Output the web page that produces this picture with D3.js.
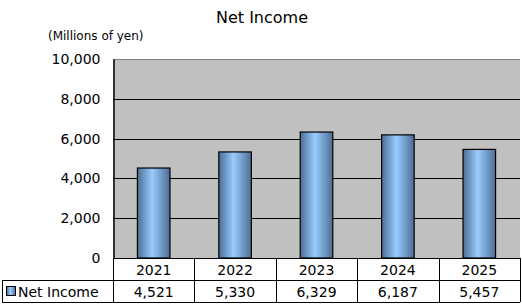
<!DOCTYPE html>
<html>
<head>
<meta charset="utf-8">
<script src="https://cdn.jsdelivr.net/npm/d3@7"></script>
<style>
  body { margin: 0; background: #fff; }
  text { font-family: "DejaVu Sans", "Liberation Sans", sans-serif; }
</style>
</head>
<body>
<script>
const years = ["2021", "2022", "2023", "2024", "2025"];
const netIncome = [4521, 5330, 6329, 6187, 5457];
const yTicks = [0, 2000, 4000, 6000, 8000, 10000];
const seriesName = "Net Income";

const width = 522, height = 304;
const plotL = 113, plotR = 520, plotT = 59, plotB = 258;
const rowH = 22;

const svg = d3.select("body").append("svg")
  .attr("width", width).attr("height", height);

const defs = svg.append("defs");
const grad = defs.append("linearGradient").attr("id", "cyl")
  .attr("x1", "0%").attr("x2", "100%").attr("y1", "0%").attr("y2", "0%");
grad.append("stop").attr("offset", "0%").attr("stop-color", "#4d6d93");
grad.append("stop").attr("offset", "45%").attr("stop-color", "#99ccff");
grad.append("stop").attr("offset", "100%").attr("stop-color", "#4d6d93");

const x = d3.scaleBand().domain(years).range([plotL, plotR]);
const y = d3.scaleLinear().domain([0, 10000]).range([plotB, plotT]);

// plot background
svg.append("rect")
  .attr("x", plotL).attr("y", plotT)
  .attr("width", plotR - plotL).attr("height", plotB - plotT)
  .attr("fill", "#c0c0c0");
svg.append("line")
  .attr("x1", plotL).attr("x2", plotR).attr("y1", plotT + 0.5).attr("y2", plotT + 0.5)
  .attr("stroke", "#808080");

// gridlines
svg.append("g").selectAll("line")
  .data(yTicks.filter(d => d > 0 && d < 10000))
  .join("line")
  .attr("x1", plotL).attr("x2", plotR)
  .attr("y1", d => Math.round(y(d)) + 0.5).attr("y2", d => Math.round(y(d)) + 0.5)
  .attr("stroke", "#000");

// y axis
const yAxis = svg.append("g")
  .attr("transform", `translate(${plotL + 0.5},0)`)
  .call(d3.axisLeft(y).tickValues(yTicks).tickSize(0).tickPadding(13)
    .tickFormat(d3.format(",")));
yAxis.select(".domain").attr("stroke", "#000").attr("stroke-width", 1.5);
yAxis.selectAll("text").attr("font-size", 14).attr("fill", "#000");

// bars
svg.append("g").selectAll("rect")
  .data(netIncome)
  .join("rect")
  .attr("x", (d, i) => x(years[i]) + x.bandwidth() * 0.3)
  .attr("width", x.bandwidth() * 0.4)
  .attr("y", d => y(d))
  .attr("height", d => plotB - y(d))
  .attr("fill", "url(#cyl)")
  .attr("stroke", "#000").attr("stroke-width", 1.2);

// title
svg.append("text")
  .attr("x", 262).attr("y", 23)
  .attr("text-anchor", "middle").attr("font-size", 16)
  .text("Net Income");
svg.append("text")
  .attr("x", 48).attr("y", 40)
  .attr("font-size", 12)
  .text("(Millions of yen)");

// data table
const table = svg.append("g").attr("stroke", "#000").attr("fill", "none");
table.append("line").attr("x1", plotL).attr("x2", plotR)
  .attr("y1", plotB + 0.5).attr("y2", plotB + 0.5);
table.append("line").attr("x1", 2).attr("x2", plotR)
  .attr("y1", plotB + rowH + 0.5).attr("y2", plotB + rowH + 0.5);
table.append("line").attr("x1", 2).attr("x2", plotR)
  .attr("y1", plotB + 2 * rowH + 0.5).attr("y2", plotB + 2 * rowH + 0.5);
table.append("line").attr("x1", 2.5).attr("x2", 2.5)
  .attr("y1", plotB + rowH).attr("y2", plotB + 2 * rowH);
table.selectAll(".vline")
  .data(years.map(d => x(d)).concat([plotR]))
  .join("line")
  .attr("x1", d => Math.round(d) + 0.5).attr("x2", d => Math.round(d) + 0.5)
  .attr("y1", plotB).attr("y2", plotB + 2 * rowH);

svg.append("g").selectAll("text")
  .data(years)
  .join("text")
  .attr("x", d => x(d) + x.bandwidth() / 2)
  .attr("y", plotB + 17)
  .attr("text-anchor", "middle").attr("font-size", 14)
  .text(d => d);

svg.append("g").selectAll("text")
  .data(netIncome)
  .join("text")
  .attr("x", (d, i) => x(years[i]) + x.bandwidth() / 2)
  .attr("y", plotB + rowH + 17)
  .attr("text-anchor", "middle").attr("font-size", 14)
  .text(d3.format(","));

// legend key
svg.append("rect")
  .attr("x", 6.5).attr("y", plotB + rowH + 6.5)
  .attr("width", 9).attr("height", 9)
  .attr("fill", "url(#cyl)").attr("stroke", "#000");
svg.append("text")
  .attr("x", 18).attr("y", plotB + rowH + 17)
  .attr("font-size", 14)
  .text(seriesName);
</script>
</body>
</html>
